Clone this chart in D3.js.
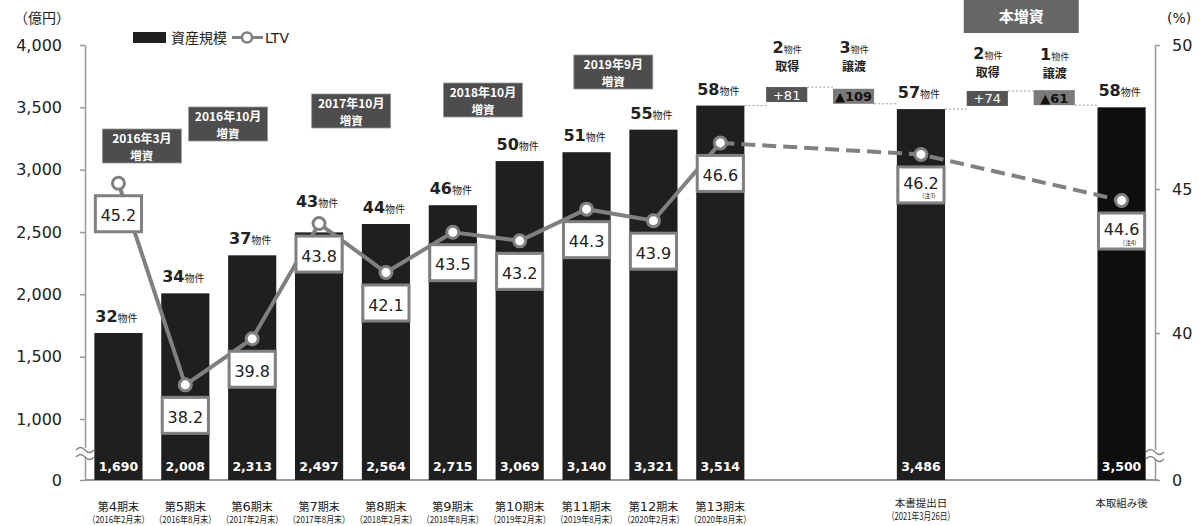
<!DOCTYPE html>
<html>
<head>
<meta charset="utf-8">
<script src="https://cdn.jsdelivr.net/npm/d3@7"></script>
<style>
body { margin: 0; background: #fff; }
text { font-family: "DejaVu Sans", sans-serif; fill: #222; }
.jp { font-family: "Noto Sans CJK JP", sans-serif; }
</style>
</head>
<body>
<svg id="chart" width="1201" height="526"></svg>
<script>
// chart values
const periods = ['4', '5', '6', '7', '8', '9', '10', '11', '12', '13'];
const periodDates = ['2016年2月末', '2016年8月末', '2017年2月末', '2017年8月末', '2018年2月末',
    '2018年8月末', '2019年2月末', '2019年8月末', '2020年2月末', '2020年8月末'];
const extraLabels = ['本書提出日', '本取組み後'];
const extraDates = ['2021年3月26日', ''];
const assetSize = [1690, 2008, 2313, 2497, 2564, 2715, 3069, 3140, 3321, 3514, 3486, 3500];
const propertyCount = [32, 34, 37, 43, 44, 46, 50, 51, 55, 58, 57, 58];
const ltv = [45.2, 38.2, 39.8, 43.8, 42.1, 43.5, 43.2, 44.3, 43.9, 46.6, 46.2, 44.6];
const ltvNotes = ['', '', '', '', '', '', '', '', '', '', '(注3)', '(注4)'];
const changeValues = [81, -109, 74, -61];
const changeLabels = ['+81', '▲109', '+74', '▲61'];
const changeCounts = [2, 3, 2, 1];
const changeKinds = ['取得', '譲渡', '取得', '譲渡'];
const offerings = ['2016年3月', '2016年10月', '2017年10月', '2018年10月', '2019年9月'];
const leftTicks = [0, 1000, 1500, 2000, 2500, 3000, 3500, 4000];
const rightTicks = [0, 40, 45, 50];

// layout (slot position, top y) for the floating boxes
const offeringPos = [[0.35, 129], [1.64, 107], [3.48, 94], [5.45, 83], [7.4, 55]];
const changeLabelY = [53, 53, 59, 60];

var svg = d3.select('#chart'),
    grey = '#808080';

var slots = d3.range(10).map(i => 'b' + i)
    .concat(['c0', 'c1', 'b10', 'c2', 'c3', 'b11']);

var x = d3.scaleBand().domain(slots).range([85, 1155])
    .paddingInner(0.28).paddingOuter(0.14);
// both value axes are broken near the bottom
var yL = d3.scaleLinear().domain([0, 1000, 4000]).range([480, 419, 45]);
var yR = d3.scaleLinear().domain([0, 37, 50]).range([480, 419.4, 45]);

var cx = k => x(k) + x.bandwidth() / 2;
var slotCenter = s => x.range()[0] + x.step() * (x.paddingOuter() + s) + x.bandwidth() / 2;

// axes
var axL = svg.append('g').attr('transform', 'translate(85,0)')
    .call(d3.axisLeft(yL).tickValues(leftTicks).tickFormat(d3.format(','))
        .tickSize(5).tickSizeOuter(0).tickPadding(18));
var axR = svg.append('g').attr('transform', 'translate(1155,0)')
    .call(d3.axisRight(yR).tickValues(rightTicks)
        .tickSize(5).tickSizeOuter(0).tickPadding(12));
[axL, axR].forEach(function (ax) {
    ax.select('.domain').attr('stroke', '#999').attr('stroke-width', 1.5);
    ax.selectAll('.tick line').attr('stroke', '#999').attr('stroke-width', 1.5);
    ax.selectAll('.tick text').attr('font-size', 16).attr('fill', '#222')
        .attr('font-family', '"DejaVu Sans", sans-serif');
});

svg.append('text').attr('class', 'jp').attr('x', 14).attr('y', 23)
    .attr('font-size', 14).text('（億円）');
svg.append('text').attr('x', 1167).attr('y', 23).attr('font-size', 14).text('(%)');

// baseline
svg.append('line').attr('x1', 85).attr('x2', 1158).attr('y1', 480).attr('y2', 480)
    .attr('stroke', '#999').attr('stroke-width', 2);

// axis break marks
[[85, 453], [1155, 455]].forEach(function (p) {
    var g = svg.append('g').attr('transform', `translate(${p[0]},${p[1]})`);
    g.append('rect').attr('x', -9).attr('y', -5).attr('width', 18).attr('height', 9).attr('fill', '#fff');
    [-4, 3].forEach(function (dy) {
        g.append('path').attr('d', `M-9,${dy + 1} q4.5,-5 9,0 t9,0`)
            .attr('fill', 'none').attr('stroke', '#888').attr('stroke-width', 1.5);
    });
});

// bars
var barKeys = d3.range(12).map(i => 'b' + i);
svg.selectAll('rect.bar').data(assetSize).enter().append('rect')
    .attr('class', 'bar')
    .attr('x', (d, i) => x(barKeys[i]))
    .attr('y', d => yL(d))
    .attr('width', x.bandwidth())
    .attr('height', d => 480 - yL(d))
    .attr('fill', (d, i) => i === 11 ? '#0e0e0e' : '#1f1f1f');

svg.selectAll('text.val').data(assetSize).enter().append('text')
    .attr('class', 'val')
    .attr('x', (d, i) => cx(barKeys[i]))
    .attr('y', 471)
    .attr('text-anchor', 'middle')
    .attr('font-size', 12.5).attr('font-weight', 'bold')
    .style('fill', '#fff')
    .text(d => d3.format(',')(d));

// property counts above bars
propertyCount.forEach(function (n, i) {
    var top = yL(assetSize[i]),
        ly = top - 11,
        ct = yR(ltv[i]) - 6;
    if (ct < top && ct > ly - 15) ly = ct - 11;
    var t = svg.append('text').attr('x', cx(barKeys[i]) - 2).attr('y', ly).attr('text-anchor', 'middle');
    t.append('tspan').attr('font-size', 16).attr('font-weight', 'bold').text(n);
    t.append('tspan').attr('class', 'jp').attr('font-size', 10).text('物件');
});

// waterfall of acquisitions / dispositions
var changeStart = [assetSize[9], assetSize[9] + changeValues[0], assetSize[10], assetSize[10] + changeValues[2]];
var boxes = changeValues.map(function (v, i) {
    var a = changeStart[i], b = a + v,
        mid = (yL(a) + yL(b)) / 2 - 6;
    return { key: 'c' + i, top: mid - 7.5, bottom: mid + 7.5, up: v > 0 };
});
var dotted = function (x1, x2, yy) {
    svg.append('line').attr('x1', x1).attr('x2', x2).attr('y1', yy).attr('y2', yy)
        .attr('stroke', '#999').attr('stroke-width', 1).attr('stroke-dasharray', '2,2');
};
boxes.forEach(function (b, i) {
    var left = x(b.key), right = left + x.bandwidth() - 7;
    // connector from the previous element
    if (i === 0) dotted(x('b9') + x.bandwidth(), left + 3, yL(assetSize[9]));
    if (i === 2) dotted(x('b10') + x.bandwidth(), left + 3, yL(assetSize[10]));
    var nextLeft = i === 1 ? x('b10') : i === 3 ? x('b11') : x(boxes[i + 1].key) + 3;
    dotted(right + 3, nextLeft, b.up ? b.top : b.bottom);

    svg.append('rect').attr('x', left + 3).attr('y', b.top)
        .attr('width', right - left).attr('height', 15)
        .attr('fill', b.up ? '#555' : '#7a7a7a');
    svg.append('text').attr('x', left + 3 + (right - left) / 2).attr('y', b.top + 12.5)
        .attr('text-anchor', 'middle').attr('font-size', 13)
        .style('fill', b.up ? '#fff' : '#111')
        .attr('font-weight', b.up ? 'normal' : 'bold')
        .text(changeLabels[i]);

    var c = cx(b.key),
        t = svg.append('text').attr('x', c).attr('y', changeLabelY[i]).attr('text-anchor', 'middle');
    t.append('tspan').attr('font-size', 16).attr('font-weight', 'bold').text(changeCounts[i]);
    t.append('tspan').attr('class', 'jp').attr('font-size', 9).text('物件');
    svg.append('text').attr('class', 'jp').attr('x', c).attr('y', changeLabelY[i] + 18)
        .attr('text-anchor', 'middle').attr('font-size', 12).attr('font-weight', 'bold')
        .text(changeKinds[i]);
});

// offering boxes
offerings.forEach(function (o, i) {
    var c = slotCenter(offeringPos[i][0]), top = offeringPos[i][1];
    svg.append('rect').attr('x', c - 39.5).attr('y', top).attr('width', 79).attr('height', 34)
        .attr('fill', '#4d4d4d').attr('stroke', '#9a9a9a').attr('stroke-width', 0.8);
    svg.append('text').attr('class', 'jp').attr('x', c).attr('y', top + 14)
        .attr('text-anchor', 'middle').attr('font-size', 12).attr('font-weight', 'bold')
        .style('fill', '#fff').text(o);
    svg.append('text').attr('class', 'jp').attr('x', c).attr('y', top + 30.5)
        .attr('text-anchor', 'middle').attr('font-size', 11.5).attr('font-weight', 'bold')
        .style('fill', '#fff').text('増資');
});

// 本増資 header
var hc = slotCenter(13.5);
svg.append('rect').attr('x', hc - 57.5).attr('y', 0).attr('width', 115).attr('height', 33)
    .attr('fill', '#666');
svg.append('text').attr('class', 'jp').attr('x', hc).attr('y', 22)
    .attr('text-anchor', 'middle').attr('font-size', 15).attr('font-weight', 'bold')
    .style('fill', '#fff').text('本増資');

// LTV line
var pts = ltv.map((v, i) => [cx(barKeys[i]), yR(v)]);
svg.append('path').attr('d', d3.line()(pts.slice(0, 10)))
    .attr('fill', 'none').attr('stroke', grey).attr('stroke-width', 4);
svg.append('path').attr('d', d3.line()(pts.slice(9)))
    .attr('fill', 'none').attr('stroke', grey).attr('stroke-width', 4)
    .attr('stroke-dasharray', '14,7');

// LTV value boxes
ltv.forEach(function (v, i) {
    var p = pts[i], top = p[1] + 12.5;
    svg.append('rect').attr('x', x(barKeys[i]) + 1).attr('y', top)
        .attr('width', x.bandwidth() - 2).attr('height', 36)
        .attr('fill', '#fff').attr('stroke', grey).attr('stroke-width', 3);
    var note = ltvNotes[i];
    svg.append('text').attr('x', p[0]).attr('y', top + (note ? 22 : 25.5))
        .attr('text-anchor', 'middle').attr('font-size', 16).text(v.toFixed(1));
    if (note) {
        svg.append('text').attr('class', 'jp').attr('x', p[0] + 8).attr('y', top + 31.5)
            .attr('text-anchor', 'middle').attr('font-size', 6).text(note);
    }
});

svg.selectAll('circle.ltv').data(pts).enter().append('circle')
    .attr('class', 'ltv')
    .attr('cx', d => d[0]).attr('cy', d => d[1]).attr('r', 6)
    .attr('fill', '#fff').attr('stroke', grey).attr('stroke-width', 3);

// x labels
periods.forEach(function (p, i) {
    var c = cx(barKeys[i]),
        t = svg.append('text').attr('x', c).attr('y', 511).attr('text-anchor', 'middle');
    t.append('tspan').attr('class', 'jp').attr('font-size', 11).text('第');
    t.append('tspan').attr('font-size', 13).text(p);
    t.append('tspan').attr('class', 'jp').attr('font-size', 11).text('期末');
    svg.append('text').attr('class', 'jp').attr('x', c).attr('y', 523)
        .attr('text-anchor', 'middle').attr('font-size', 9.5)
        .attr('textLength', 62).attr('lengthAdjust', 'spacingAndGlyphs')
        .text('（' + periodDates[i] + '）');
});
extraLabels.forEach(function (l, i) {
    var c = cx(barKeys[10 + i]);
    svg.append('text').attr('class', 'jp').attr('x', c).attr('y', 507)
        .attr('text-anchor', 'middle').attr('font-size', 10.5).text(l);
    if (extraDates[i]) {
        svg.append('text').attr('class', 'jp').attr('x', c).attr('y', 520)
            .attr('text-anchor', 'middle').attr('font-size', 10.5)
            .attr('textLength', 68).attr('lengthAdjust', 'spacingAndGlyphs')
            .text('（' + extraDates[i] + '）');
    }
});

// legend
svg.append('rect').attr('x', 133).attr('y', 32).attr('width', 33).attr('height', 11).attr('fill', '#1f1f1f');
svg.append('text').attr('class', 'jp').attr('x', 171).attr('y', 43).attr('font-size', 14).text('資産規模');
svg.append('line').attr('x1', 232).attr('x2', 263).attr('y1', 37.5).attr('y2', 37.5)
    .attr('stroke', grey).attr('stroke-width', 3);
svg.append('circle').attr('cx', 247).attr('cy', 37.5).attr('r', 5)
    .attr('fill', '#fff').attr('stroke', grey).attr('stroke-width', 2.5);
svg.append('text').attr('x', 265).attr('y', 43).attr('font-size', 14).text('LTV');
</script>
</body>
</html>
